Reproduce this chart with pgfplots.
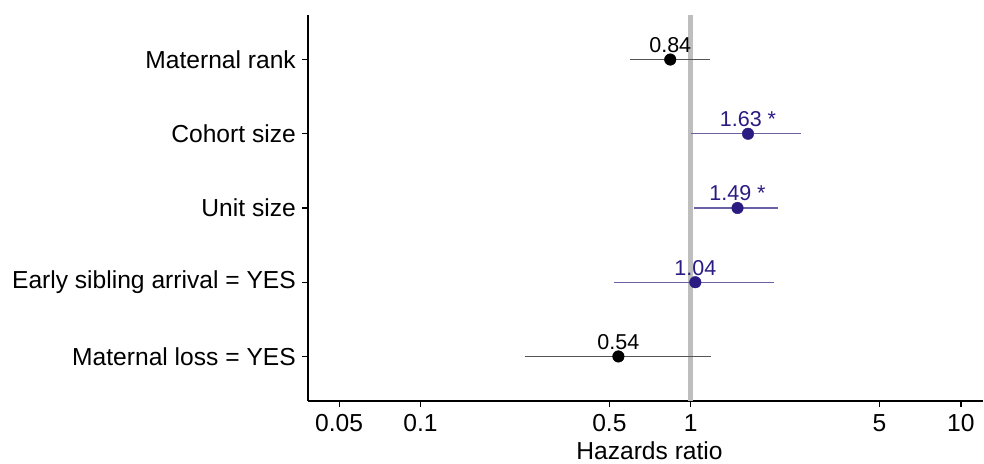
\documentclass[border=0pt]{standalone}
\usepackage{pgfplots}
\pgfplotsset{compat=1.18}
\usepackage{fontspec}
\setmainfont{Liberation Sans}
\definecolor{hrblue}{RGB}{42,27,130}
\definecolor{hrblueline}{RGB}{105,97,165}
\definecolor{refgray}{RGB}{190,190,190}
\definecolor{ciblack}{RGB}{85,85,85}
\begin{document}
\begin{tikzpicture}[x=1bp,y=1bp]
\path[use as bounding box] (-308,-63) rectangle (676,401);
\begin{axis}[
  at={(0,0)}, anchor=south west,
  scale only axis, width=675bp, height=386bp,
  xmode=log, xmin=0.03834, xmax=12.07,
  ymin=0.4, ymax=5.6,
  axis x line*=bottom, axis y line*=left,
  axis line style={line width=1.3bp, black},
  xtick={0.05,0.1,0.5,1,5,10},
  xticklabels={0.05,0.1,0.5,1,5,10},
  xminorticks=false, yminorticks=false,
  ytick={1,2,3,4,5},
  yticklabels={Maternal loss = YES, Early sibling arrival = YES, Unit size, Cohort size, Maternal rank},
  tick align=outside,
  major tick length=6bp,
  tick style={line width=1.2bp, black},
  tick label style={font=\fontsize{24.6bp}{29bp}\selectfont, inner sep=0pt, text=black},
  xticklabel shift=7bp,
  yticklabel shift=6bp,
  xlabel={Hazards ratio},
  xlabel style={at={(axis description cs:0.5,0)}, anchor=base, yshift=-59bp, xshift=4bp, inner sep=0pt, font=\fontsize{24.6bp}{29bp}\selectfont},
  clip=false,
]
% reference line at HR = 1
\addplot[refgray, line width=4.5bp] coordinates {(1,0.4) (1,5.6)};
% confidence intervals
\addplot[ciblack, line width=1.2bp] coordinates {(0.595,5) (1.175,5)};
\addplot[hrblueline, line width=1.2bp] coordinates {(1.006,4) (2.57,4)};
\addplot[hrblueline, line width=1.2bp] coordinates {(1.03,3) (2.10,3)};
\addplot[hrblueline, line width=1.2bp] coordinates {(0.518,2) (2.04,2)};
\addplot[ciblack, line width=1.2bp] coordinates {(0.243,1) (1.19,1)};
% point estimates, non-significant
\addplot[only marks, mark=*, mark size=5.8bp, mark options={draw=black, fill=black},
  nodes near coords, point meta=explicit symbolic,
  nodes near coords style={anchor=base, inner sep=0pt, yshift=7bp, text=black, font=\fontsize{21.5bp}{26bp}\selectfont}]
  table[col sep=comma, row sep=\\, x=x, y=y, meta=label] {
x,y,label\\
0.84,5,0.84\\
0.54,1,0.54\\
};
% point estimates, significant / blue
\addplot[only marks, mark=*, mark size=5.8bp, mark options={draw=hrblue, fill=hrblue},
  nodes near coords, point meta=explicit symbolic,
  nodes near coords style={anchor=base, inner sep=0pt, yshift=7bp, text=hrblue, font=\fontsize{21.5bp}{26bp}\selectfont}]
  table[col sep=comma, row sep=\\, x=x, y=y, meta=label] {
x,y,label\\
1.63,4,1.63 *\\
1.49,3,1.49 *\\
1.04,2,1.04\\
};
\end{axis}
\end{tikzpicture}
\end{document}
